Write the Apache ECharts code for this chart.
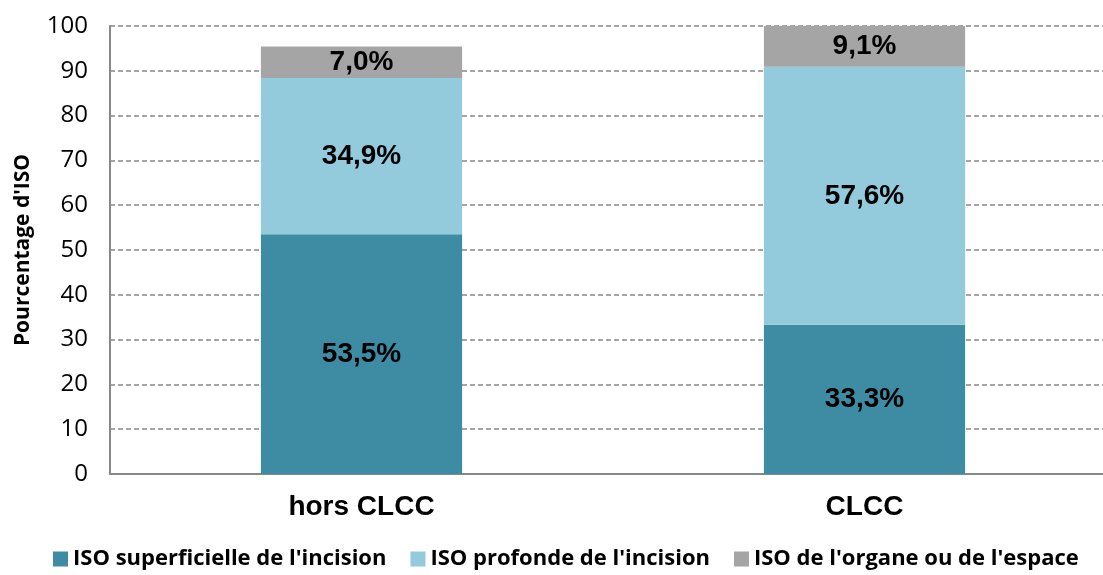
<!DOCTYPE html>
<html><head><meta charset="utf-8">
<script src="https://cdn.jsdelivr.net/npm/echarts@6/dist/echarts.min.js"></script>
<style>html,body{margin:0;padding:0;background:#fff}#c{width:1103px;height:575px}</style>
</head><body><div id="c"></div>
<script>
const categories = ['hors CLCC', 'CLCC'];
const seriesNames = ["ISO superficielle de l'incision", "ISO profonde de l'incision", "ISO de l'organe ou de l'espace"];
const superficielle = [53.5, 33.3];
const profonde = [34.9, 57.6];
const organe = [7.0, 9.1];
const yTicks = [0, 10, 20, 30, 40, 50, 60, 70, 80, 90, 100];
const colors = ['#3D8CA3', '#93CBDC', '#A5A5A5'];

const chart = echarts.init(document.getElementById('c'), null, {renderer: 'canvas'});
const fmt = p => p.value.toFixed(1).replace('.', ',') + '%';
const mk = (name, data, color) => ({
  name, type: 'bar', stack: 's', data, barWidth: '40%',
  itemStyle: {color},
  label: {show: true, position: 'inside', formatter: fmt, color: '#000',
    fontFamily: 'Liberation Sans, Arial', fontWeight: 'bold', fontSize: 28}
});
chart.setOption({
  animation: false,
  grid: {left: 110, top: 26, width: 1006, height: 448, containLabel: false, outerBoundsMode: 'none'},
  legend: {
    bottom: 0, left: 48, itemWidth: 15, itemHeight: 15, itemGap: 24, icon: 'rect',
    textStyle: {fontFamily: 'Open Sans', fontWeight: 'bold', fontSize: 22, color: '#000'},
    data: seriesNames
  },
  xAxis: {
    type: 'category', data: categories,
    axisLine: {lineStyle: {color: '#888', width: 2}},
    axisTick: {show: false},
    axisLabel: {margin: 19, color: '#000', fontFamily: 'Liberation Sans, Arial', fontWeight: 'bold', fontSize: 28}
  },
  yAxis: {
    type: 'value', min: yTicks[0], max: yTicks[yTicks.length - 1], interval: 10,
    name: "Pourcentage d'ISO", nameLocation: 'middle', nameGap: 76,
    nameTextStyle: {fontFamily: 'Open Sans', fontWeight: 'bold', fontSize: 21, color: '#000'},
    axisLine: {show: true, lineStyle: {color: '#888', width: 2}},
    axisTick: {show: false},
    axisLabel: {margin: 22, color: '#000', fontFamily: 'Open Sans', fontSize: 24},
    splitLine: {lineStyle: {color: '#888', type: [5, 3], width: 1.5}}
  },
  series: [
    mk(seriesNames[0], superficielle, colors[0]),
    mk(seriesNames[1], profonde, colors[1]),
    mk(seriesNames[2], organe, colors[2])
  ]
});
</script></body></html>
